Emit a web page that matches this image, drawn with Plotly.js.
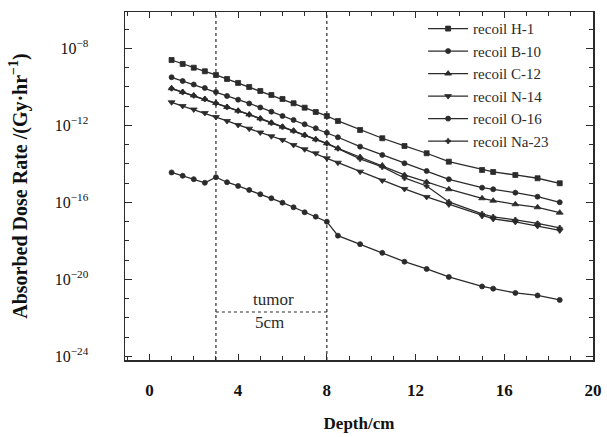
<!DOCTYPE html>
<html>
<head>
<meta charset="utf-8">
<script src="https://cdn.plot.ly/plotly-3.0.1.min.js"></script>
<style>html,body{margin:0;padding:0;background:#fff;}#chart{width:607px;height:437px;}</style>
</head>
<body>
<div id="chart"></div>
<script>
// Depth (cm)
const depth = [1,1.5,2,2.5,3,3.5,4,4.5,5,5.5,6,6.5,7,7.5,8,8.5,9.5,10.5,11.5,12.5,13.5,15,15.5,16.5,17.5,18.5];

// Absorbed dose rate (Gy/hr)
const h1 = [2.49e-9,1.55e-9,9.9e-10,6.46e-10,4.15e-10,2.57e-10,1.60e-10,9.9e-11,6.12e-11,3.79e-11,2.35e-11,1.41e-11,8.30e-12,4.97e-12,3.08e-12,1.69e-12,5.77e-13,2.14e-13,8.51e-14,3.56e-14,1.30e-14,4.82e-15,3.79e-15,2.65e-15,1.79e-15,9.8e-16];
const b10 = [3.16e-10,2.02e-10,1.33e-10,8.77e-11,5.43e-11,3.37e-11,2.16e-11,1.37e-11,8.51e-12,5.15e-12,3.08e-12,1.91e-12,1.14e-12,7.06e-13,4.18e-13,2.41e-13,7.83e-14,2.90e-14,1.07e-14,4.28e-15,1.58e-15,5.81e-16,4.80e-16,3.19e-16,1.98e-16,1.01e-16];
const c12 = [8.45e-11,5.43e-11,3.57e-11,2.35e-11,1.46e-11,9.04e-12,5.81e-12,3.68e-12,2.28e-12,1.38e-12,8.55e-13,5.31e-13,3.17e-13,1.90e-13,1.17e-13,6.46e-14,2.28e-14,8.26e-15,2.65e-15,1.15e-15,4.80e-16,1.63e-16,1.22e-16,7.96e-17,5.56e-17,2.92e-17];
const n14 = [1.58e-11,1.02e-11,6.70e-12,4.41e-12,2.73e-12,1.69e-12,1.05e-12,6.75e-13,4.28e-13,2.72e-13,1.75e-13,9.59e-14,5.73e-14,3.56e-14,1.95e-14,1.15e-14,3.94e-15,1.37e-15,4.97e-16,1.91e-16,7.78e-17,1.97e-17,1.37e-17,9.59e-18,5.94e-18,3.47e-18];
const o16 = [3.57e-15,2.41e-15,1.60e-15,1.04e-15,2.04e-15,1.11e-15,7.11e-16,4.41e-16,2.64e-16,1.63e-16,9.64e-17,5.56e-17,3.06e-17,1.81e-17,9.93e-18,1.86e-18,6.75e-19,2.38e-19,8.30e-20,3.47e-20,1.33e-20,4.28e-21,3.29e-21,1.97e-21,1.46e-21,8.51e-22];
const na23 = [8.2e-11,5.3e-11,3.5e-11,2.3e-11,1.43e-11,8.9e-12,5.7e-12,3.6e-12,2.22e-12,1.35e-12,8.3e-13,5.2e-13,3.1e-13,1.85e-13,1.13e-13,6.2e-14,1.80e-14,6.90e-15,1.85e-15,7.11e-16,1.05e-16,2.49e-17,1.75e-17,1.22e-17,8.02e-18,4.68e-18];

const seriesNames = ['recoil H-1','recoil B-10','recoil C-12','recoil N-14','recoil O-16','recoil Na-23'];
const seriesData = [h1, b10, c12, n14, o16, na23];
const seriesSymbols = ['square','circle','triangle-up','triangle-down','circle','cross'];
const seriesSizes = [5,5,6,6,5,4];

const yTickVals = [1e-24,1e-20,1e-16,1e-12,1e-8];
const yTickText = ['10<sup>−24</sup>','10<sup>−20</sup>','10<sup>−16</sup>','10<sup>−12</sup>','10<sup>−8</sup>'];
const xTickVals = [0,4,8,12,16,20];
const tumorStart = 3, tumorEnd = 8;

const ink = '#2b2b2b';
const traces = seriesNames.map((n,i)=>({
  x: depth, y: seriesData[i], name: n, type: 'scatter', mode: 'lines+markers',
  line: {color: ink, width: 1.3},
  marker: {symbol: seriesSymbols[i], size: seriesSizes[i], color: ink, line: {color: ink, width: 0.8}}
}));

const minorY = [];
for (let e = -24; e <= -6; e++) minorY.push(Math.pow(10, e));

const serif = 'Liberation Serif';
const layout = {
  width: 607, height: 437,
  margin: {l: 125, r: 14, t: 12, b: 77},
  paper_bgcolor: '#fff', plot_bgcolor: '#fff',
  font: {family: serif, color: '#111'},
  showlegend: true,
  legend: {x: 0.637, y: 0.999, xanchor: 'left', yanchor: 'top', bgcolor: 'rgba(0,0,0,0)',
           font: {family: serif, size: 15, color: ink}, itemwidth: 40, tracegroupgap: 0},
  xaxis: {
    range: [-1.1, 20], showline: true, linecolor: ink, linewidth: 1.5, mirror: 'ticks',
    ticks: 'inside', ticklen: 6, tickwidth: 1.2, tickcolor: ink,
    tickmode: 'array', tickvals: xTickVals, ticklabelstandoff: 14,
    minor: {dtick: 1, tick0: 0, ticks: 'inside', ticklen: 4, tickcolor: ink, tickwidth: 1},
    showgrid: false, zeroline: false,
    tickfont: {family: serif, size: 17, color: '#111', weight: 'bold'},
    title: {text: 'Depth/cm', font: {family: serif, size: 17, color: '#111', weight: 'bold'}, standoff: 18}
  },
  yaxis: {
    type: 'log', range: [-24.19, -6.11], showline: true, linecolor: ink, linewidth: 1.5, mirror: 'ticks',
    ticks: 'inside', ticklen: 7, tickwidth: 1.2, tickcolor: ink,
    tickmode: 'array', tickvals: yTickVals, ticktext: yTickText, ticklabelstandoff: 32,
    minor: {tickmode: 'array', tickvals: minorY, ticks: 'inside', ticklen: 4, tickcolor: ink, tickwidth: 1},
    showgrid: false, zeroline: false,
    tickfont: {family: serif, size: 16, color: '#111'},
    title: {text: 'Absorbed Dose Rate /(Gy·hr<sup>−1</sup>)', font: {family: serif, size: 20, color: '#111', weight: 'bold'}, standoff: 22}
  },
  shapes: [
    {type: 'line', xref: 'x', yref: 'paper', x0: tumorStart, x1: tumorStart, y0: 0, y1: 1, line: {color: ink, width: 1.2, dash: 'dot'}},
    {type: 'line', xref: 'x', yref: 'paper', x0: tumorEnd, x1: tumorEnd, y0: 0, y1: 1, line: {color: ink, width: 1.2, dash: 'dot'}},
    {type: 'line', xref: 'x', yref: 'paper', x0: tumorStart, x1: tumorEnd, y0: 0.138, y1: 0.138, line: {color: ink, width: 1.2, dash: 'dot'}}
  ],
  annotations: [
    {xref: 'x', yref: 'y', x: 5.6, y: -21.07, text: 'tumor', showarrow: false, font: {family: serif, size: 17, color: ink}},
    {xref: 'x', yref: 'y', x: 5.4, y: -22.22, text: '5cm', showarrow: false, font: {family: serif, size: 17, color: ink}}
  ]
};

Plotly.newPlot('chart', traces, layout, {displayModeBar: false, staticPlot: true});
</script>
</body>
</html>
